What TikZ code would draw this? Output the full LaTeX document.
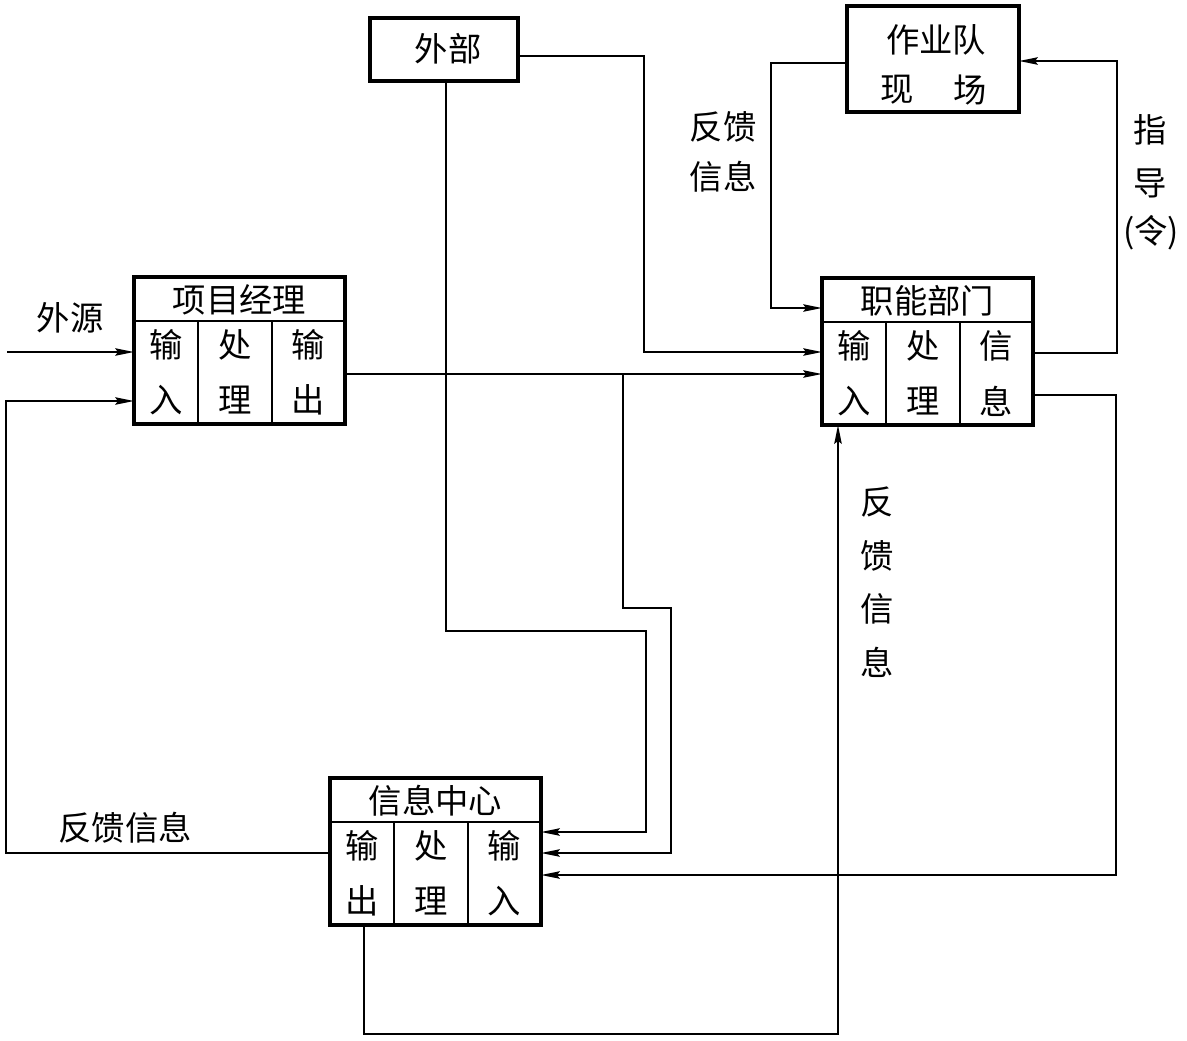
\documentclass[tikz,border=0pt]{standalone}
\usepackage{fontspec}
\setmainfont{Noto Sans CJK SC}
\usetikzlibrary{arrows.meta,calc}
\newcommand{\cellsthree}[7]{%
  \draw[div] ($(#1.north west)+(0,44)$) -- ($(#1.north east)+(0,44)$);
  \draw[div] ($(#1.north west)+(64,44)$) -- ($(#1.south west)+(64,0)$);
  \draw[div] ($(#1.north west)+(138,44)$) -- ($(#1.south west)+(138,0)$);
  \node[txt] (#1-a) at ($(#1.north west)+(32,68)$) {#2};
  \node[txt] (#1-b) at ($(#1.north west)+(32,123)$) {#3};
  \node[txt] (#1-c) at ($(#1.north west)+(101,68)$) {#4};
  \node[txt] (#1-d) at ($(#1.north west)+(101,123)$) {#5};
  \node[txt] (#1-e) at ($(#1.north west)+(174,68)$) {#6};
  \node[txt] (#1-f) at ($(#1.north west)+(174,123)$) {#7};
}
\begin{document}
\begin{tikzpicture}[x=0.75pt,y=-0.75pt,
  box/.style={draw,line width=2.6pt,inner sep=0pt,outer sep=0pt},
  bigbox/.style={box,minimum width=158.25pt,minimum height=110.25pt},
  div/.style={line width=1.6pt},
  arr/.style={line width=1.7pt,-{Stealth[length=14pt,width=5.5pt,inset=2pt]}},
  txt/.style={inner sep=0pt,font=\fontsize{25}{29}\selectfont},
]
\useasboundingbox (0,0) rectangle (1187,1040);

% boxes
\node[bigbox] (pm) at (239.5,350.5) {};
\node[bigbox] (fd) at (927.5,351.5) {};
\node[bigbox] (ic) at (435.5,851.5) {};
\node[box,minimum width=111pt,minimum height=47.25pt] (ext) at (444,49.5) {};
\node[box,minimum width=129pt,minimum height=79.5pt] (crew) at (933,59) {};

% box texts
\node[txt] (pmt) at ($(pm.north)+(0,23)$) {项目经理};
\cellsthree{pm}{输}{入}{处}{理}{输}{出}
\node[txt] (fdt) at ($(fd.north)+(0,23)$) {职能部门};
\cellsthree{fd}{输}{入}{处}{理}{信}{息}
\node[txt] (ict) at ($(ic.north)+(0,23)$) {信息中心};
\cellsthree{ic}{输}{出}{处}{理}{输}{入}
\node[txt] (extt) at (448,49) {外部};
\node[txt] (crew1) at (936,40) {作业队};
\node[txt] (crew2a) at (897,90) {现};
\node[txt] (crew2b) at (970,90) {场};

% labels
\node[txt] (l1) at (70,318) {外源};
\node[txt] (l2) at (125,828) {反馈信息};
\node[txt] (l3a) at (723,127) {反馈};
\node[txt] (l3b) at (723,177) {信息};
\node[txt] (l4a) at (1150,130) {指};
\node[txt] (l4b) at (1150,183) {导};
\node[txt] (l4c) at (1151,233) {(令)};
\node[txt] (l5a) at (877,502) {反};
\node[txt] (l5b) at (877,556) {馈};
\node[txt] (l5c) at (877,609) {信};
\node[txt] (l5d) at (877,662) {息};

% connectors
\coordinate (src) at (7,352);
\draw[arr] (src) -- (pm.west |- src);
\draw[arr] (ic.west |- 0,853) -- (6,853) -- (6,401) -- (pm.west |- 0,401);
\draw[arr] (pm.east |- 0,374) -- (fd.west |- 0,374);
\coordinate (br) at (623,374);
\draw[arr] (br) -- (623,608) -- (671,608) -- (671,853) -- (ic.east |- 0,853);
\draw[arr] (ext.east |- 0,56) -- (644,56) -- (644,352) -- (fd.west |- 0,352);
\draw[arr] (ext.south -| 446,0) -- (446,631) -- (646,631) -- (646,832) -- (ic.east |- 0,832);
\draw[arr] (fd.east |- 0,353) -- (1117,353) -- (1117,61) -- (crew.east |- 0,61);
\draw[arr] (crew.west |- 0,63) -- (771,63) -- (771,308) -- (fd.west |- 0,308);
\draw[arr] (fd.east |- 0,395) -- (1116,395) -- (1116,875) -- (ic.east |- 0,875);
\draw[arr] (ic.south -| 364,0) -- (364,1034) -- (838,1034) -- (fd.south -| 838,0);
\end{tikzpicture}
\end{document}
